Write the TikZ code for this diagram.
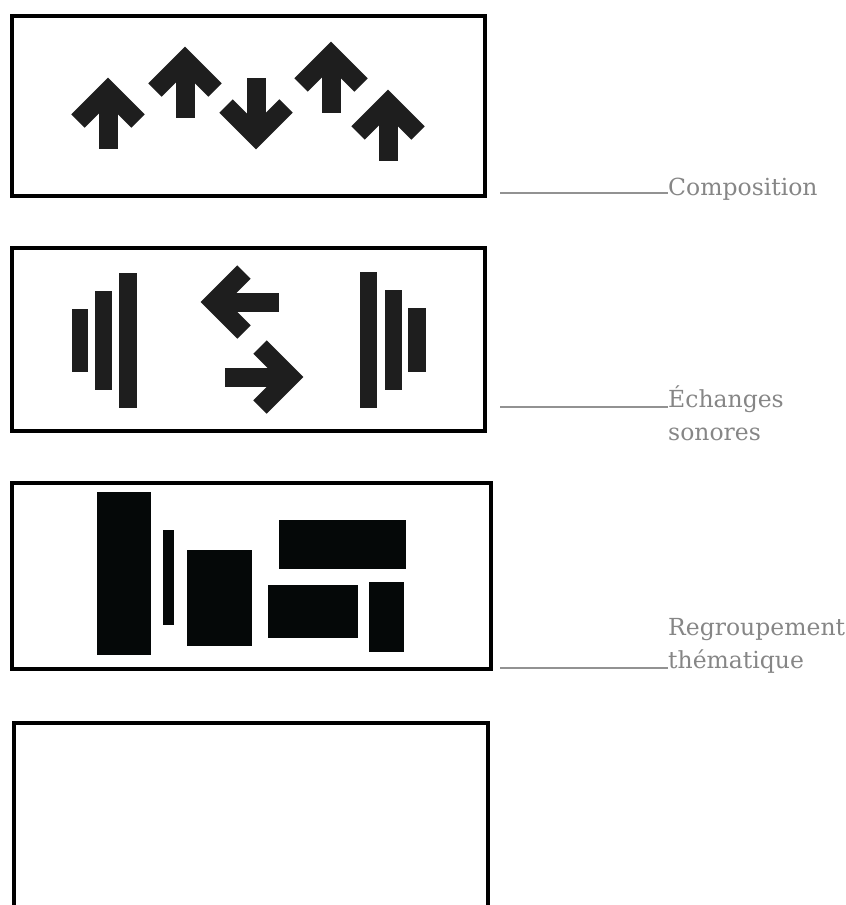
\documentclass[tikz,border=0pt]{standalone}
\usepackage{fontspec}
\setmainfont{DejaVu Serif}
\usepackage{xcolor}
\usetikzlibrary{positioning}
\definecolor{inkdark}{HTML}{1E1E1E}
\definecolor{blockink}{HTML}{050808}
\definecolor{labelgray}{HTML}{868686}
\tikzset{
    panel/.style={rectangle, draw, line width=4pt, inner sep=0pt},
    bar/.style={fill=inkdark, draw=none},
    block/.style={fill=blockink, draw=none},
    leader/.style={draw=labelgray!90, line width=2.2pt},
    caption/.style={text=labelgray, font=\fontsize{23.5}{33}\selectfont, align=left, inner sep=0pt, anchor=base west},
    arrow length/.store in=\arrlen, arrow length=71,
    bigarrow/.pic={
        \draw[inkdark, line width=19pt, line join=miter] (-30,43) -- (0,13) -- (30,43);
        \draw[inkdark, line width=19pt] (0,13) -- (0,\arrlen);
    }
}

\begin{document}
\begin{tikzpicture}[x=1pt, y=-1pt]
    \useasboundingbox (0,0) rectangle (846,905);

    % panels
    \node (box1) [panel, minimum width=473, minimum height=180] at (248.5,106) {};
    \node (box2) [panel, minimum width=473, minimum height=183] at (248.5,339.5) {};
    \node (box3) [panel, minimum width=479, minimum height=186] at (251.5,576) {};
    \node (box4) [panel, minimum width=474, minimum height=188] at (251,817) {};

    % composition: arrows
    \pic at (108,78) {bigarrow};
    \pic at (185,47) {bigarrow};
    \pic[rotate=180] at (256,149) {bigarrow};
    \pic at (331,42) {bigarrow};
    \pic at (388,90) {bigarrow};

    % sound exchanges
    \fill[bar] (72,309) rectangle (88,372);
    \fill[bar] (95,291) rectangle (112,390);
    \fill[bar] (119,273) rectangle (137,408);
    \fill[bar] (360,272) rectangle (377,408);
    \fill[bar] (385,290) rectangle (402,390);
    \fill[bar] (408,308) rectangle (426,372);
    \pic[rotate=90, arrow length=78] at (201,302) {bigarrow};
    \pic[rotate=-90, arrow length=78] at (303,377) {bigarrow};

    % thematic grouping
    \fill[block] (97,492) rectangle (151,655);
    \fill[block] (163,530) rectangle (174,625);
    \fill[block] (187,550) rectangle (252,646);
    \fill[block] (279,520) rectangle (406,569);
    \fill[block] (268,585) rectangle (358,638);
    \fill[block] (369,582) rectangle (404,652);

    % labels (base = last line)
    \node (lblcomp) [caption] at (668,195) {Composition};
    \node (lblech) [caption] at (668,440) {Échanges\\sonores};
    \node (lblgroup) [caption] at (668,668) {Regroupement\\thématique};

    \coordinate (l1) at (500,193);
    \coordinate (l2) at (500,407);
    \coordinate (l3) at (500,668);
    \draw[leader] (l1) -- (l1 -| lblcomp.west);
    \draw[leader] (l2) -- (l2 -| lblech.west);
    \draw[leader] (l3) -- (l3 -| lblgroup.west);
\end{tikzpicture}
\end{document}
